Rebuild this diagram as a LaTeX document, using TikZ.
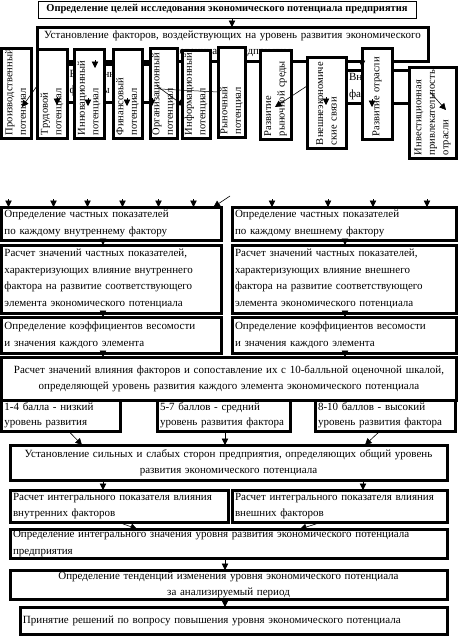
\documentclass[tikz,border=0pt]{standalone}
\usepackage{fontspec}
\setmainfont{Liberation Serif}
\usetikzlibrary{arrows.meta,calc}

\tikzset{
	blok/.style={draw, line width=3pt, fill=white, anchor=north west,
		inner sep=1.5pt, outer sep=0pt, align=left,
		font=\fontsize{11}{16.5}\selectfont},
	ball/.style={blok, font=\fontsize{11}{14.5}\selectfont},
	fakt/.style={blok, rotate=90, font=\fontsize{10.5}{13.5}\selectfont},
	zag/.style={draw, line width=0.8pt, fill=white, anchor=north west,
		inner sep=1pt, outer sep=0pt, font=\bfseries\fontsize{10.5}{12}\selectfont},
	strel/.style={-{Triangle[width=6.5pt,length=6.5pt]}, line width=0.6pt},
	tonk/.style={line width=0.5pt}
}

\begin{document}
\begin{tikzpicture}[x=1pt,y=-1pt]
	\useasboundingbox (0,0) rectangle (458,637);
	% top part
	\node[zag, minimum width=378pt, minimum height=17pt] (cel) at (38,1)
		{Определение целей исследования экономического потенциала предприятия};
	\node[blok, align=center, text width=385pt, minimum width=391pt, minimum height=34pt] (ustanov) at (37,27)
		{Установление факторов, воздействующих на уровень развития экономического\\потенциала предприятия};
	\node[blok, text width=92pt, minimum width=99pt, minimum height=38pt] (vnutr) at (66,64)
		{Внутренние\\факторы};
	\node[blok, text width=68pt, minimum width=74pt, minimum height=33pt] (vnesh) at (346,70)
		{Внешние\\факторы};
	% factor boxes, written bottom to top
	\node[fakt, text width=84pt, minimum width=90pt, minimum height=30pt] (f1) at (1.5,138) {Производственный\\потенциал};
	\node[fakt, text width=83pt, minimum width=89pt, minimum height=30pt] (f2) at (37,138) {Трудовой\\потенциал};
	\node[fakt, text width=83pt, minimum width=89pt, minimum height=30pt] (f3) at (74,138) {Инновационный\\потенциал};
	\node[fakt, text width=83pt, minimum width=89pt, minimum height=29pt] (f4) at (113,138) {Финансовый\\потенциал};
	\node[fakt, text width=84pt, minimum width=90pt, minimum height=27pt] (f5) at (150,138) {Организационный\\потенциал};
	\node[fakt, text width=82pt, minimum width=88pt, minimum height=28pt] (f6) at (182,138) {Информационный\\потенциал};
	\node[fakt, text width=84pt, minimum width=90pt, minimum height=27pt] (f7) at (218,137) {Рыночный\\потенциал};
	\node[fakt, text width=83pt, minimum width=89pt, minimum height=31pt] (f8) at (260,139) {Развитие\\рыночной среды};
	\node[fakt, text width=85pt, minimum width=91pt, minimum height=39pt] (f9) at (307,148) {Внешнеэкономиче\\ские связи};
	\node[fakt, text width=85pt, minimum width=91pt, minimum height=30pt] (f10) at (362,139) {Развитие отрасли};
	\node[fakt, text width=85pt, minimum width=91pt, minimum height=47pt] (f11) at (409,158) {Инвестиционная\\привлекательность\\отрасли};
	\draw[strel] (cel.south -| 232,0) -- (ustanov.north -| 232,0);
	\foreach \x/\y in {57/105, 88/106, 127/106, 152/106, 326/105, 372/107, 95/68, 362/67}
		\draw[strel] (\x,\y-8) -- (\x,\y);
	\draw[strel] (37,86) -- (22,107);
	\draw[strel] (157,86) -- (184,106);
	\draw[tonk] (160,89) -- (f7.north);
	\draw[strel] (307,86) -- (275,107);
	\draw[strel] (430,92) -- (446,110);
	% lower part
	\node[blok, text width=214pt, minimum width=220pt, minimum height=33pt] (l1) at (1.5,207)
		{Определение частных показателей\\по каждому внутреннему фактору};
	\node[blok, text width=218pt, minimum width=224pt, minimum height=33pt] (r1) at (232,207)
		{Определение частных показателей\\по каждому внешнему фактору};
	\node[blok, text width=214pt, minimum width=220pt, minimum height=68pt] (l2) at (1.5,245)
		{Расчет значений частных показателей,\\характеризующих влияние внутреннего\\фактора на развитие соответствующего\\элемента экономического потенциала};
	\node[blok, text width=218pt, minimum width=224pt, minimum height=68pt] (r2) at (232,245)
		{Расчет значений частных показателей,\\характеризующих влияние внешнего\\фактора на развитие соответствующего\\элемента экономического потенциала};
	\node[blok, text width=214pt, minimum width=220pt, minimum height=36pt] (l3) at (1.5,317)
		{Определение коэффициентов весомости\\и значения каждого элемента};
	\node[blok, text width=218pt, minimum width=224pt, minimum height=36pt] (r3) at (232,317)
		{Определение коэффициентов весомости\\и значения каждого элемента};
	\node[ball, text width=113pt, minimum width=119pt, minimum height=32pt] (nizk) at (1.5,399)
		{1-4 балла - низкий\\уровень развития};
	\node[ball, text width=127pt, minimum width=133pt, minimum height=32pt] (sred) at (157,399)
		{5-7 баллов - средний\\уровень развития фактора};
	\node[ball, text width=134pt, minimum width=140pt, minimum height=32pt] (vys) at (315,399)
		{8-10 баллов - высокий\\уровень развития фактора};
	\node[blok, align=center, text width=449pt, minimum width=455pt, minimum height=43pt] (shkala) at (1.5,357)
		{Расчет значений влияния факторов и сопоставление их с 10-балльной оценочной шкалой,\\определяющей уровень развития каждого элемента экономического потенциала};
	\node[blok, align=center, text width=431pt, minimum width=437pt, minimum height=35pt] (storony) at (10,445)
		{Установление сильных и слабых сторон предприятия, определяющих общий уровень\\развития экономического потенциала};
	\node[blok, text width=212pt, minimum width=218pt, minimum height=32pt] (i1) at (10,490)
		{Расчет интегрального показателя влияния\\внутренних факторов};
	\node[blok, text width=209pt, minimum width=215pt, minimum height=32pt] (i2) at (232,490)
		{Расчет интегрального показателя влияния\\внешних факторов};
	\node[blok, text width=431pt, minimum width=437pt, minimum height=29pt] (integr) at (10,529)
		{Определение интегрального значения уровня развития экономического потенциала\\предприятия};
	\node[blok, align=center, text width=431pt, minimum width=437pt, minimum height=28pt] (tend) at (10,570)
		{Определение тенденций изменения уровня экономического потенциала\\за анализируемый период};
	\node[blok, text width=421pt, minimum width=427pt, minimum height=27pt] (resh) at (20,607)
		{Принятие решений по вопросу повышения уровня экономического потенциала};
	% arrows
	\foreach \x in {7,52,86,121,157,192}
		\draw[strel] ([xshift=\x pt,yshift=8pt]l1.north west) -- ([xshift=\x pt]l1.north west);
	\draw[strel] (230,196) -- ([xshift=-8pt]l1.north east);
	\foreach \x in {40,96,141,195}
		\draw[strel] ([xshift=\x pt,yshift=8pt]r1.north west) -- ([xshift=\x pt]r1.north west);
	\draw[strel] (l1.south -| 103,0) -- (l2.north -| 103,0);
	\draw[strel] (l2.south -| 103,0) -- (l3.north -| 103,0);
	\draw[strel] (l3.south -| 103,0) -- (shkala.north -| 103,0);
	\draw[strel] (r1.south -| 345,0) -- (r2.north -| 345,0);
	\draw[strel] (r2.south -| 345,0) -- (r3.north -| 345,0);
	\draw[strel] (r3.south -| 345,0) -- (shkala.north -| 345,0);
	\draw[strel] ([xshift=67pt]nizk.south west) -- ([xshift=72pt]storony.north west);
	\draw[strel] (sred.south -| 225,0) -- (storony.north -| 225,0);
	\draw[strel] ([xshift=65pt]vys.south west) -- ([xshift=355pt]storony.north west);
	\draw[strel] (storony.south -| 103,0) -- (i1.north -| 103,0);
	\draw[strel] (storony.south -| 363,0) -- (i2.north -| 363,0);
	\draw[strel] ([xshift=108pt]i1.south west) -- ([xshift=127pt]integr.north west);
	\draw[strel] ([xshift=90pt]i2.south west) -- ([xshift=290pt]integr.north west);
	\draw[strel] (integr.south -| 225,0) -- (tend.north -| 225,0);
	\draw[strel] (tend.south -| 225,0) -- (resh.north -| 225,0);
\end{tikzpicture}
\end{document}
